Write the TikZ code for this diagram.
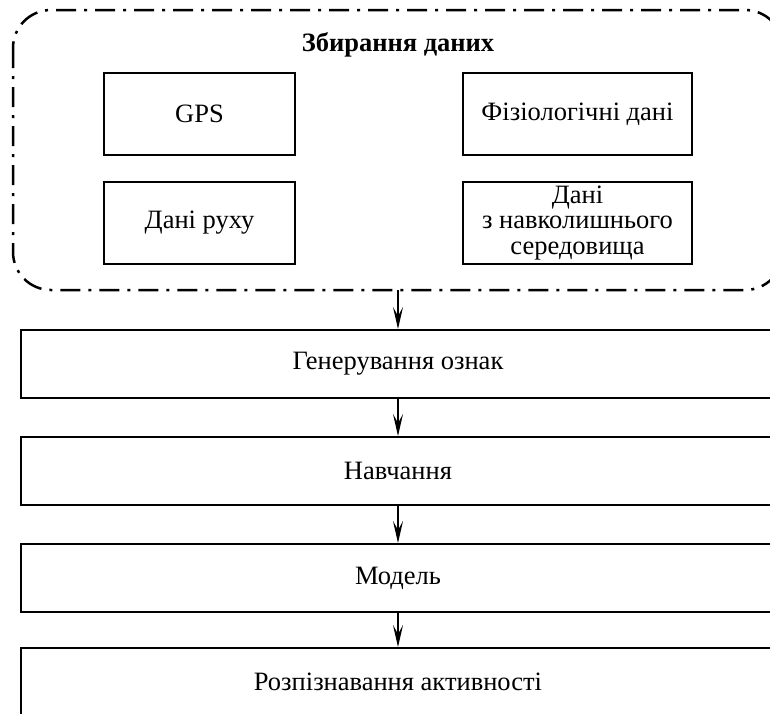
\documentclass[tikz,border=0pt]{standalone}
\usepackage{fontspec}
\setmainfont{Liberation Serif}
\usetikzlibrary{arrows.meta}
\begin{document}
\begin{tikzpicture}[x=1pt,y=-1pt,
  txt/.style={font=\fontsize{26.5}{25.5}\selectfont},
  smallbox/.style={draw,line width=2pt,minimum width=191pt,minimum height=82pt,inner sep=0pt,align=center,txt},
  widebox/.style={draw,line width=2pt,minimum width=754pt,minimum height=68pt,inner sep=0pt,txt},
  dashdot/.style={draw,line width=2.5pt,rounded corners=38pt,dash pattern=on 20pt off 8pt on 3pt off 8pt},
  arr/.style={line width=1.3pt,-{Stealth[length=22pt,width=10pt,inset=9pt]}}]
\useasboundingbox (0,0) rectangle (770,713);
\clip (0,0) rectangle (770,713);
\draw[dashdot] (13,10) rectangle (783,290);
\coordinate (grpbot) at (398,290);
\node[font=\fontsize{26.5}{25.5}\selectfont\bfseries] (title) at (398,45) {Збирання даних};
\node[smallbox] (gps) at (199.5,114) {GPS};
\node[smallbox,minimum width=229pt] (phys) at (577.5,114) {Фізіологічні дані};
\node[smallbox] (move) at (199.5,223) {Дані руху};
\node[smallbox,minimum width=229pt] (env) at (577.5,223) {Дані\\з навколишнього\\середовища};
\node[widebox] (feat) at (398,364) {Генерування ознак};
\node[widebox] (learn) at (398,471) {Навчання};
\node[widebox] (model) at (398,578) {Модель};
\node[widebox] (recog) at (398,682) {Розпізнавання активності};
\draw[arr] (grpbot) -- (feat.north);
\draw[arr] (feat.south) -- (learn.north);
\draw[arr] (learn.south) -- (model.north);
\draw[arr] (model.south) -- (recog.north);
\end{tikzpicture}
\end{document}
